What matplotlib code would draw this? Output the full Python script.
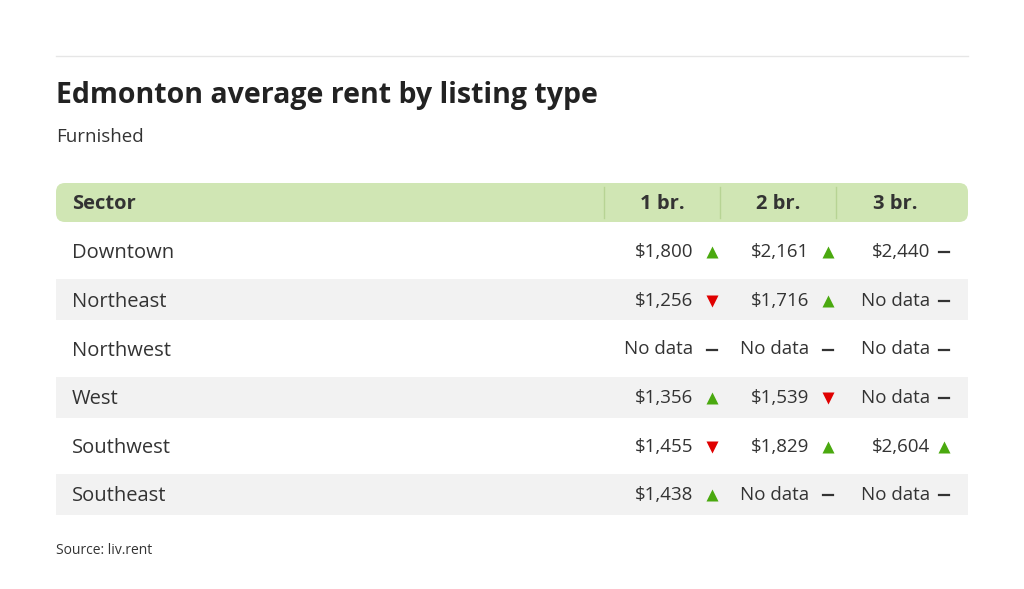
import matplotlib
matplotlib.use("Agg")
import matplotlib.pyplot as plt
from matplotlib.patches import FancyBboxPatch, Rectangle

sectors = ["Downtown", "Northeast", "Northwest", "West", "Southwest", "Southeast"]
columns = ["1 br.", "2 br.", "3 br."]
rent_1br = [1800, 1256, None, 1356, 1455, 1438]
rent_2br = [2161, 1716, None, 1539, 1829, None]
rent_3br = [2440, None, None, None, 2604, None]
trend_1br = ["up", "down", "flat", "up", "down", "up"]
trend_2br = ["up", "up", "flat", "down", "up", "flat"]
trend_3br = ["flat", "flat", "flat", "flat", "up", "flat"]

FONT = "Open Sans"
W, H = 1024, 589
fig = plt.figure(figsize=(W / 100, H / 100), dpi=100)
ax = fig.add_axes([0, 0, 1, 1])
ax.set_xlim(0, W)
ax.set_ylim(H, 0)
ax.axis("off")

ax.plot([56, 968], [56, 56], color="#e6e6e6", lw=1)
ax.text(56, 96, "Edmonton average rent by listing type", fontsize=20.5, fontweight="bold",
        family=FONT, color="#222222", va="center")
ax.text(56, 137, "Furnished", fontsize=13.5, family=FONT, color="#333333", va="center")

# header
ax.add_patch(FancyBboxPatch((56, 183), 912, 39, boxstyle="round,pad=0,rounding_size=9",
                            facecolor="#d0e6b4", edgecolor="none"))
ax.text(72, 204, "Sector", fontsize=14.5, fontweight="bold", family=FONT, color="#333333", va="center")
col_centers = [662, 778, 895]
for sx in [604, 720, 836]:
    ax.plot([sx, sx], [187, 218], color="#b7d494", lw=1)
for c, lab in zip(col_centers, columns):
    ax.text(c, 204, lab, fontsize=14.5, fontweight="bold", family=FONT, color="#333333",
            va="center", ha="center")

row_h = 48.6
y0 = 227
text_right = [693, 809, 930]
mark_x = [712, 828, 944]
cols = [(rent_1br, trend_1br), (rent_2br, trend_2br), (rent_3br, trend_3br)]
for i, s in enumerate(sectors):
    top = y0 + i * row_h
    cy = top + row_h / 2
    if i % 2 == 1:
        ax.add_patch(Rectangle((56, cy - 20.5), 912, 41, facecolor="#f2f2f2", edgecolor="none"))
    ax.text(72, cy + 2, s, fontsize=14.5, family=FONT, color="#333333", va="center")
    for j, (vals, trs) in enumerate(cols):
        v = vals[i]
        txt = f"${v:,}" if v is not None else "No data"
        ax.text(text_right[j], cy + 1, txt, fontsize=13.5, family=FONT, color="#333333",
                va="center", ha="right")
        t = trs[i]
        if t == "up":
            ax.plot(mark_x[j], cy + 1, marker="^", color="#4aa90f", ms=8, mec="none")
        elif t == "down":
            ax.plot(mark_x[j], cy + 1, marker="v", color="#e00000", ms=8, mec="none")
        else:
            ax.plot([mark_x[j] - 5, mark_x[j] + 5], [cy + 1, cy + 1], color="#333333", lw=1.6)

ax.text(56, 550, "Source: liv.rent", fontsize=10, family=FONT, color="#333333", va="center")
fig.savefig("out.png", dpi=100, facecolor="white")
